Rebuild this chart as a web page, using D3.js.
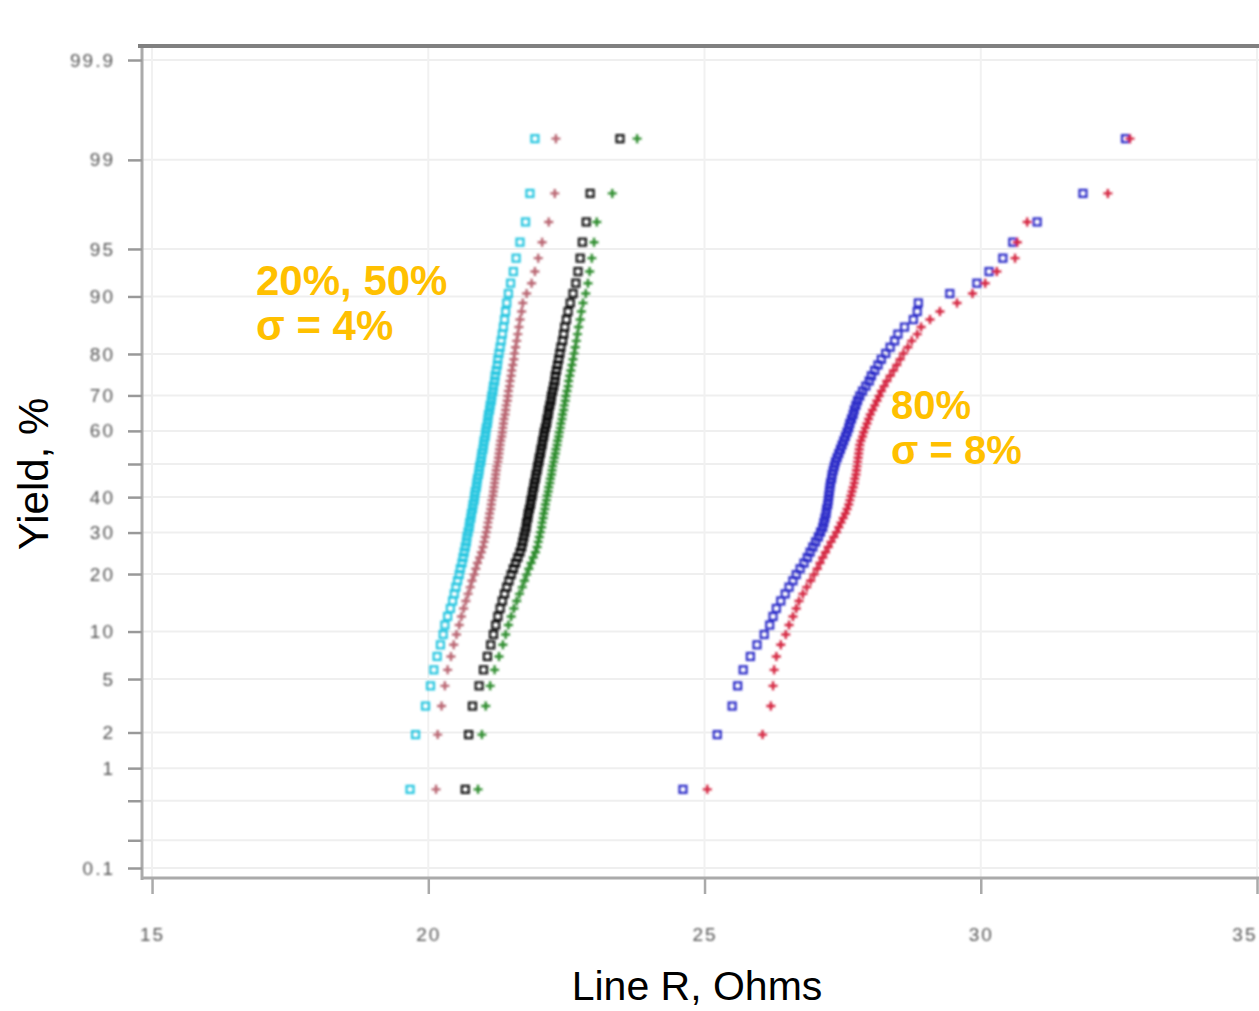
<!DOCTYPE html>
<html>
<head>
<meta charset="utf-8">
<script src="https://cdn.jsdelivr.net/npm/d3@7"></script>
<style>
  body { margin: 0; background: #fff; }
  svg { display: block; }
  .tick text { font-family: Arial, "Liberation Sans", sans-serif; }
</style>
</head>
<body>
<div id="canvas"></div>
<script>
// probability plot of line resistance, 78 samples per wafer group

// y axis ticks (cumulative %) and what is printed beside them
var yTicks  = [99.9, 99, 95, 90, 80, 70, 60, 50, 40, 30, 20, 10, 5, 2, 1, 0.5, 0.2, 0.1];
var yLabels = ['99.9','99','95','90','80','70','60','','40','30','20','10','5','2','1','','','0.1'];
// x axis ticks (Ohms)
var xTicks = [15, 20, 25, 30, 35];

// sorted resistance readings, Ohms
var cyanR = [19.67,19.77,19.95,20.04,20.10,20.16,20.22,20.27,20.30,20.35,20.40,20.44,20.47,20.50,20.53,20.56,20.58,20.61,20.63,20.65,
  20.67,20.69,20.70,20.72,20.74,20.75,20.77,20.78,20.80,20.81,20.83,20.84,20.85,20.87,20.88,20.89,20.91,20.92,20.93,20.95,
  20.96,20.97,20.99,21.00,21.01,21.03,21.04,21.05,21.07,21.08,21.09,21.11,21.12,21.14,21.15,21.17,21.18,21.20,21.21,21.23,
  21.25,21.26,21.28,21.30,21.32,21.34,21.36,21.38,21.40,21.42,21.45,21.49,21.54,21.59,21.66,21.76,21.84,21.93];

var pinkR = [20.14,20.17,20.24,20.30,20.35,20.41,20.46,20.51,20.56,20.60,20.64,20.68,20.72,20.76,20.79,20.83,20.86,20.89,20.93,20.96,
  20.99,21.01,21.03,21.05,21.07,21.08,21.10,21.11,21.13,21.14,21.15,21.17,21.18,21.19,21.20,21.21,21.22,21.23,21.24,21.26,
  21.27,21.28,21.29,21.30,21.31,21.33,21.34,21.35,21.36,21.37,21.39,21.40,21.41,21.43,21.44,21.45,21.47,21.48,21.50,21.51,
  21.53,21.55,21.56,21.58,21.60,21.62,21.64,21.66,21.69,21.71,21.78,21.87,21.93,21.99,22.06,22.18,22.29,22.31];

var blackR = [20.67,20.73,20.80,20.92,21.00,21.07,21.13,21.18,21.22,21.26,21.30,21.34,21.38,21.42,21.46,21.50,21.54,21.58,21.62,21.66,
  21.69,21.71,21.73,21.75,21.77,21.78,21.80,21.81,21.83,21.85,21.86,21.88,21.89,21.91,21.92,21.94,21.95,21.97,21.98,22.00,
  22.01,22.03,22.04,22.06,22.07,22.09,22.10,22.12,22.14,22.15,22.17,22.18,22.20,22.22,22.23,22.25,22.27,22.29,22.30,22.32,
  22.34,22.36,22.38,22.40,22.43,22.45,22.47,22.50,22.53,22.57,22.62,22.67,22.71,22.75,22.79,22.86,22.93,23.47];

var greenR = [20.90,20.97,21.04,21.12,21.20,21.28,21.35,21.40,21.45,21.50,21.55,21.60,21.65,21.70,21.74,21.78,21.82,21.86,21.90,21.94,
  21.97,21.99,22.01,22.03,22.05,22.06,22.08,22.09,22.11,22.12,22.14,22.15,22.17,22.18,22.20,22.21,22.23,22.24,22.25,22.27,
  22.28,22.30,22.31,22.33,22.34,22.36,22.37,22.39,22.40,22.42,22.43,22.45,22.46,22.48,22.49,22.51,22.53,22.54,22.56,22.58,
  22.60,22.62,22.64,22.66,22.68,22.70,22.72,22.75,22.77,22.80,22.85,22.89,22.92,22.96,23.00,23.05,23.33,23.78];

var blueR = [24.61,25.23,25.50,25.60,25.70,25.83,25.95,26.08,26.18,26.24,26.30,26.38,26.46,26.53,26.60,26.66,26.73,26.80,26.86,26.91,
  26.96,27.01,27.06,27.10,27.14,27.16,27.18,27.20,27.21,27.23,27.24,27.25,27.26,27.27,27.28,27.30,27.31,27.33,27.35,27.37,
  27.40,27.43,27.46,27.49,27.52,27.55,27.58,27.61,27.63,27.66,27.69,27.71,27.74,27.77,27.81,27.86,27.92,27.98,28.02,28.08,
  28.14,28.20,28.28,28.36,28.44,28.50,28.62,28.78,28.85,28.87,29.44,29.93,30.15,30.40,30.58,31.02,31.85,32.62];

var redR = [25.05,26.05,26.20,26.24,26.26,26.30,26.38,26.47,26.53,26.60,26.66,26.71,26.78,26.85,26.92,26.98,27.04,27.09,27.14,27.19,
  27.24,27.29,27.34,27.39,27.43,27.47,27.51,27.55,27.58,27.61,27.63,27.65,27.67,27.69,27.71,27.72,27.74,27.75,27.76,27.77,
  27.78,27.79,27.80,27.81,27.83,27.86,27.88,27.91,27.94,27.97,28.00,28.04,28.08,28.12,28.16,28.20,28.25,28.30,28.36,28.42,
  28.48,28.54,28.60,28.68,28.75,28.85,28.92,29.08,29.26,29.57,29.85,30.08,30.29,30.62,30.66,30.84,32.30,32.70];

var series = [
  {name:'blue',  values: blueR,  color:'#2a2ac8', mark:'square'},
  {name:'red',   values: redR,   color:'#d4213c', mark:'plus'},
  {name:'pink',  values: pinkR,  color:'#b86470', mark:'plus'},
  {name:'cyan',  values: cyanR,  color:'#26c6e0', mark:'square'},
  {name:'green', values: greenR, color:'#2a8a2a', mark:'plus'},
  {name:'black', values: blackR, color:'#111111', mark:'square'}
];

var W = 1259, H = 1011;
var svg = d3.select('#canvas').append('svg')
    .attr('width', W)
    .attr('height', H);

svg.append('defs').append('filter').attr('id','soft')
    .append('feGaussianBlur').attr('stdDeviation', 0.8);

// inverse normal cdf (Acklam) for the probability axis
function probit(p){
  var a=[-39.69683028665376,220.9460984245205,-275.9285104469687,138.3577518672690,-30.66479806614716,2.506628277459239],
      b=[-54.47609879822406,161.5858368580409,-155.6989798598866,66.80131188771972,-13.28068155288572],
      c=[-0.007784894002430293,-0.3223964580411365,-2.400758277161838,-2.549732539343734,4.374664141464968,2.938163982698783],
      d=[0.007784695709041462,0.3224671290700398,2.445134137142996,3.754408661907416];
  var q, r;
  if (p < 0.02425){
    q = Math.sqrt(-2*Math.log(p));
    return (((((c[0]*q+c[1])*q+c[2])*q+c[3])*q+c[4])*q+c[5])/((((d[0]*q+d[1])*q+d[2])*q+d[3])*q+1);
  }
  if (p > 1-0.02425){
    q = Math.sqrt(-2*Math.log(1-p));
    return -(((((c[0]*q+c[1])*q+c[2])*q+c[3])*q+c[4])*q+c[5])/((((d[0]*q+d[1])*q+d[2])*q+d[3])*q+1);
  }
  q = p-0.5; r = q*q;
  return (((((a[0]*r+a[1])*r+a[2])*r+a[3])*r+a[4])*r+a[5])*q/(((((b[0]*r+b[1])*r+b[2])*r+b[3])*r+b[4])*r+1);
}

var m = {t:47, l:141, b:878, r:1259};

var x = d3.scaleLinear().domain([14.8, 35.036]).range([m.l, m.r]);
var y = d3.scaleLinear().domain([-3.1667, 3.1897]).range([m.b, m.t]);

var yz = yTicks.map(function(p){ return probit(p/100); });

// gridlines
var grid = svg.append('g').attr('class','grid');
grid.selectAll('line.h').data(yz).enter().append('line')
    .attr('x1', m.l).attr('x2', m.r)
    .attr('y1', function(d){ return y(d); }).attr('y2', function(d){ return y(d); })
    .attr('stroke', '#efefef').attr('stroke-width', 2);
grid.selectAll('line.v').data(xTicks).enter().append('line')
    .attr('y1', m.t).attr('y2', m.b)
    .attr('x1', function(d){ return x(d); }).attr('x2', function(d){ return x(d); })
    .attr('stroke', '#f1f1f1').attr('stroke-width', 2);

// y axis
var axisY = d3.axisLeft(y)
    .tickValues(yz)
    .tickSize(14)
    .tickPadding(13)
    .tickFormat(function(d, i){ return yLabels[i]; });
var gy = svg.append('g').attr('transform','translate(' + (m.l+1) + ',0)').call(axisY);
gy.select('.domain').attr('stroke','#aaaaaa').attr('stroke-width',3).attr('d','M0,' + (m.t-1) + 'V' + (m.b+2));
gy.selectAll('.tick line').attr('stroke','#999999').attr('stroke-width',2.5);
gy.selectAll('.tick text')
    .attr('fill','#555').attr('font-size',19).attr('letter-spacing',2)
    .attr('filter','url(#soft)');

// x axis
var axisX = d3.axisBottom(x)
    .tickValues(xTicks)
    .tickSize(16)
    .tickPadding(34)
    .tickFormat(d3.format('d'));
var gx = svg.append('g').attr('transform','translate(0,' + m.b + ')').call(axisX);
gx.select('.domain').attr('stroke','#aaaaaa').attr('stroke-width',3).attr('d','M' + m.l + ',0H' + m.r);
gx.selectAll('.tick line').attr('stroke','#aaaaaa').attr('stroke-width',2.5);
gx.selectAll('.tick text')
    .attr('fill','#555').attr('font-size',19).attr('letter-spacing',2)
    .attr('filter','url(#soft)');
// last label sits on the right edge, keep it inside the page
gx.selectAll('.tick text').filter(function(d){ return d === 35; })
    .attr('text-anchor','end').attr('dx', 0);

// top frame
svg.append('line')
    .attr('x1', m.l - 3).attr('x2', m.r)
    .attr('y1', m.t - 1).attr('y2', m.t - 1)
    .attr('stroke','#808080').attr('stroke-width',4);

// data, plotted at (i - 0.5)/n
var plot = svg.append('g').attr('filter','url(#soft)');
series.forEach(function(s){
  var n = s.values.length;
  var pts = s.values.map(function(v, i){ return {r: v, z: probit((i + 0.5)/n)}; });
  var g = plot.append('g').attr('class', s.name);
  if (s.mark === 'square'){
    g.selectAll('rect').data(pts).enter().append('rect')
      .attr('x', function(d){ return x(d.r) - 3.5; })
      .attr('y', function(d){ return y(d.z) - 3.5; })
      .attr('width', 7).attr('height', 7)
      .attr('fill','none').attr('stroke', s.color).attr('stroke-width', 2.2);
  } else {
    g.selectAll('path').data(pts).enter().append('path')
      .attr('d', function(d){
        var cx = x(d.r), cy = y(d.z);
        return 'M' + (cx-4.5) + ',' + cy + 'H' + (cx+4.5) + 'M' + cx + ',' + (cy-4.5) + 'V' + (cy+4.5);
      })
      .attr('fill','none').attr('stroke', s.color).attr('stroke-width', 2.4);
  }
});

// axis titles
svg.append('text')
    .attr('x', 697).attr('y', 1000)
    .attr('text-anchor','middle')
    .attr('font-family','Arial, "Liberation Sans", sans-serif')
    .attr('font-size', 41)
    .text('Line R, Ohms');
svg.append('text')
    .attr('transform','translate(48,474) rotate(-90)')
    .attr('text-anchor','middle')
    .attr('font-family','Arial, "Liberation Sans", sans-serif')
    .attr('font-size', 42)
    .text('Yield, %');

// annotations
var gold = '#FFC000';
function note(x0, y0, lines, size){
  var t = svg.append('text')
      .attr('font-family','Arial, "Liberation Sans", sans-serif')
      .attr('font-weight','bold')
      .attr('font-size', size)
      .attr('fill', gold);
  lines.forEach(function(l, i){
    t.append('tspan').attr('x', x0).attr('y', y0 + i*45).text(l);
  });
}
note(256, 295, ['20%, 50%', 'σ = 4%'], 42);
note(891, 419, ['80%', 'σ = 8%'], 40);
</script>
</body>
</html>
